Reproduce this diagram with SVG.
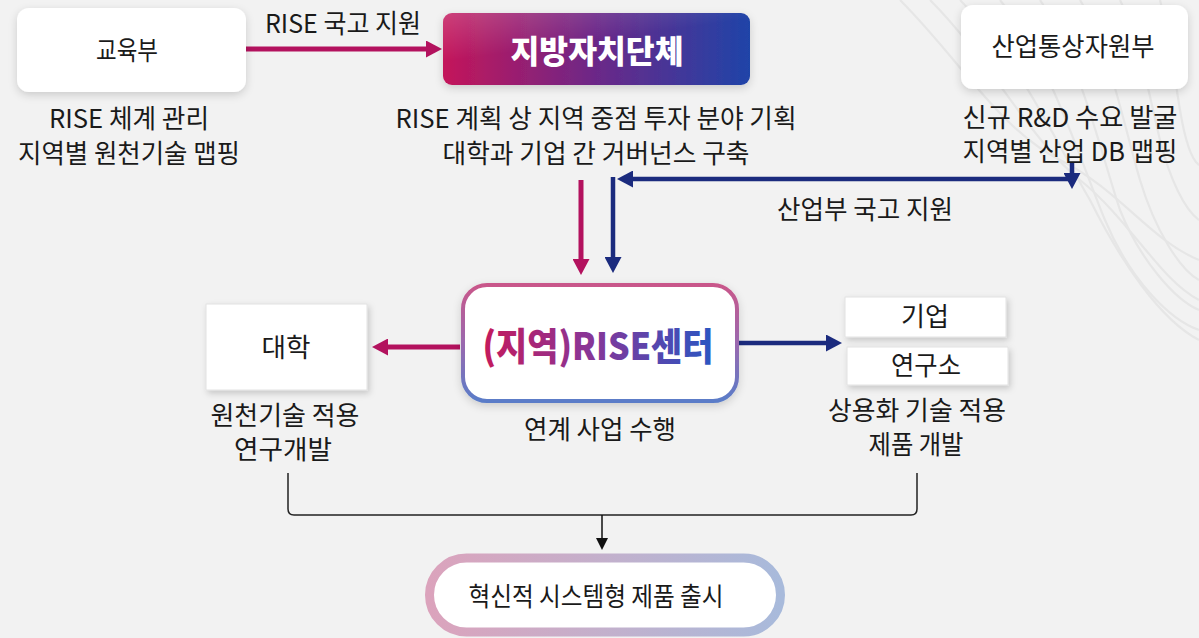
<svg xmlns="http://www.w3.org/2000/svg" width="1199" height="638" viewBox="0 0 1199 638">
<style>
.t{font-family:"Noto Sans CJK KR","Noto Sans",sans-serif;font-size:26px;fill:#1a1a1a;text-anchor:middle}
.box{fill:#ffffff}
.wave{fill:none;stroke:#e6e6e6;stroke-width:2.2}
</style>
<defs>
<filter id="sh" x="-20%" y="-30%" width="140%" height="170%">
<feDropShadow dx="0" dy="3" stdDeviation="4" flood-color="#000" flood-opacity="0.16"/>
</filter>
<filter id="sh2" x="-20%" y="-30%" width="140%" height="170%">
<feDropShadow dx="2" dy="3" stdDeviation="3" flood-color="#000" flood-opacity="0.18"/>
</filter>
<linearGradient id="gLocal" x1="0" y1="0" x2="1" y2="0">
<stop offset="0" stop-color="#c4165a"/>
<stop offset="0.5" stop-color="#6b2888"/>
<stop offset="1" stop-color="#1f44a8"/>
</linearGradient>
<linearGradient id="gHi" x1="0" y1="0" x2="0.6" y2="1">
<stop offset="0" stop-color="#ffffff" stop-opacity="0.18"/>
<stop offset="0.5" stop-color="#ffffff" stop-opacity="0"/>
</linearGradient>
<linearGradient id="gCenter" x1="0" y1="0" x2="0" y2="1">
<stop offset="0" stop-color="#c9578a"/>
<stop offset="0.5" stop-color="#9a68ae"/>
<stop offset="1" stop-color="#5a7cc8"/>
</linearGradient>
<linearGradient id="gCenterText" x1="0" y1="0" x2="1" y2="0">
<stop offset="0" stop-color="#c41a5c"/>
<stop offset="0.45" stop-color="#8a3596"/>
<stop offset="1" stop-color="#2a56c2"/>
</linearGradient>
<linearGradient id="gPill" x1="0" y1="0" x2="1" y2="0">
<stop offset="0" stop-color="#dba3bc"/>
<stop offset="0.5" stop-color="#c3b0cc"/>
<stop offset="1" stop-color="#a8badb"/>
</linearGradient>
<marker id="mMag" markerUnits="userSpaceOnUse" markerWidth="16" markerHeight="17" refX="3" refY="8.5" orient="auto">
<path d="M0,0 L16,8.5 L0,17 z" fill="#b3125e"/>
</marker>
<marker id="mNavy" markerUnits="userSpaceOnUse" markerWidth="16" markerHeight="17" refX="3" refY="8.5" orient="auto">
<path d="M0,0 L16,8.5 L0,17 z" fill="#1b2b7e"/>
</marker>
<marker id="mBlk" markerUnits="userSpaceOnUse" markerWidth="12" markerHeight="12" refX="2" refY="6" orient="auto">
<path d="M0,0 L12,6 L0,12 z" fill="#111"/>
</marker>
</defs>

<rect x="0" y="0" width="1199" height="638" fill="#f2f2f2"/>

<g id="background-waves">
<path class="wave" d="M900,0 C960,60 1000,130 1060,160 C1120,190 1150,240 1199,260"/>
<path class="wave" d="M930,0 C990,60 1030,140 1080,180 C1130,220 1160,280 1199,300"/>
<path class="wave" d="M960,0 C1020,60 1060,150 1090,200 C1120,260 1160,320 1199,340"/>
<path class="wave" d="M1000,0 C1050,60 1080,160 1105,220 C1130,280 1170,320 1199,330"/>
<path class="wave" d="M1040,0 C1080,60 1100,150 1120,210 C1140,260 1175,300 1199,310"/>
<path class="wave" d="M1080,0 C1110,50 1125,130 1140,180 C1155,230 1180,270 1199,280"/>
<path class="wave" d="M1120,0 C1140,40 1150,100 1160,140 C1170,180 1185,210 1199,220"/>
<path class="wave" d="M1160,0 C1170,40 1175,80 1180,110 C1185,140 1192,160 1199,165"/>
</g>

<g id="connectors" fill="none">
<path d="M246,49 H429" stroke="#b3125e" stroke-width="5" marker-end="url(#mMag)"/>
<path d="M581,180 V262" stroke="#b3125e" stroke-width="5" marker-end="url(#mMag)"/>
<path d="M1072,163 V176" stroke="#1b2b7e" stroke-width="4.5" marker-end="url(#mNavy)"/>
<path d="M1072,179 H630" stroke="#1b2b7e" stroke-width="4.5" marker-end="url(#mNavy)"/>
<path d="M613,177 V260" stroke="#1b2b7e" stroke-width="4.5" marker-end="url(#mNavy)"/>
<path d="M460,347 H385" stroke="#b3125e" stroke-width="5" marker-end="url(#mMag)"/>
<path d="M739,343 H829" stroke="#1b2b7e" stroke-width="4.5" marker-end="url(#mNavy)"/>
<path d="M288,473 V509 Q288,515 294,515 H911 Q917,515 917,509 V473" stroke="#222" stroke-width="1.5"/>
<path d="M602,515 V540" stroke="#111" stroke-width="1.5" marker-end="url(#mBlk)"/>
</g>

<g id="label-rise-grant">
<text class="t" x="343" y="33" textLength="156" lengthAdjust="spacingAndGlyphs">RISE 국고 지원</text>
</g>
<g id="label-industry-grant">
<text class="t" x="865" y="219" textLength="176" lengthAdjust="spacingAndGlyphs">산업부 국고 지원</text>
</g>

<g id="node-moe">
<rect class="box" x="17" y="8" width="229" height="84" rx="12" filter="url(#sh)"/>
<text class="t" x="127" y="60" textLength="62" lengthAdjust="spacingAndGlyphs">교육부</text>
<text class="t" x="129" y="128" textLength="160" lengthAdjust="spacingAndGlyphs">RISE 체계 관리</text>
<text class="t" x="129" y="163" textLength="222" lengthAdjust="spacingAndGlyphs">지역별 원천기술 맵핑</text>
</g>

<g id="node-local-gov">
<rect x="443" y="13" width="307" height="72" rx="9" fill="url(#gLocal)" filter="url(#sh)"/>
<rect x="443" y="13" width="307" height="72" rx="9" fill="url(#gHi)"/>
<text x="597" y="63" font-family="'Noto Sans CJK KR',sans-serif" font-size="32" font-weight="900" fill="#ffffff" text-anchor="middle" textLength="173" lengthAdjust="spacingAndGlyphs">지방자치단체</text>
<text class="t" x="596" y="128" textLength="401" lengthAdjust="spacingAndGlyphs">RISE 계획 상 지역 중점 투자 분야 기획</text>
<text class="t" x="596" y="163" textLength="307" lengthAdjust="spacingAndGlyphs">대학과 기업 간 거버넌스 구축</text>
</g>

<g id="node-motie">
<rect class="box" x="961" y="5" width="227" height="84" rx="12" filter="url(#sh)"/>
<text class="t" x="1073" y="56" textLength="163" lengthAdjust="spacingAndGlyphs">산업통상자원부</text>
<text class="t" x="1070" y="127" textLength="215" lengthAdjust="spacingAndGlyphs">신규 R&amp;D 수요 발굴</text>
<text class="t" x="1070" y="161" textLength="215" lengthAdjust="spacingAndGlyphs">지역별 산업 DB 맵핑</text>
</g>

<g id="node-rise-center">
<rect x="463" y="285" width="274" height="116" rx="24" fill="#ffffff" stroke="url(#gCenter)" stroke-width="4" filter="url(#sh)"/>
<text x="598" y="360" font-family="'Noto Sans CJK KR',sans-serif" font-size="38" font-weight="900" fill="url(#gCenterText)" text-anchor="middle" textLength="231" lengthAdjust="spacingAndGlyphs">(지역)RISE센터</text>
<text class="t" x="600" y="439" textLength="152" lengthAdjust="spacingAndGlyphs">연계 사업 수행</text>
</g>

<g id="node-university">
<rect class="box" x="206" y="304" width="161" height="86" stroke="#e2e2e2" stroke-width="1" filter="url(#sh2)"/>
<text class="t" x="286" y="357" textLength="49" lengthAdjust="spacingAndGlyphs">대학</text>
<text class="t" x="285" y="425" textLength="149" lengthAdjust="spacingAndGlyphs">원천기술 적용</text>
<text class="t" x="283" y="459" textLength="98" lengthAdjust="spacingAndGlyphs">연구개발</text>
</g>

<g id="node-company">
<rect class="box" x="845" y="297" width="161" height="40" stroke="#e2e2e2" stroke-width="1" filter="url(#sh2)"/>
<text class="t" x="925" y="326" textLength="48" lengthAdjust="spacingAndGlyphs">기업</text>
</g>

<g id="node-institute">
<rect class="box" x="847" y="347" width="161" height="38" stroke="#e2e2e2" stroke-width="1" filter="url(#sh2)"/>
<text class="t" x="926" y="375" textLength="70" lengthAdjust="spacingAndGlyphs">연구소</text>
<text class="t" x="917" y="420" textLength="178" lengthAdjust="spacingAndGlyphs">상용화 기술 적용</text>
<text class="t" x="916" y="454" textLength="95" lengthAdjust="spacingAndGlyphs">제품 개발</text>
</g>

<g id="node-product">
<rect x="429.5" y="558" width="351" height="74" rx="37" fill="#ffffff" stroke="url(#gPill)" stroke-width="9"/>
<text class="t" x="596" y="606" font-size="28" textLength="255" lengthAdjust="spacingAndGlyphs">혁신적 시스템형 제품 출시</text>
</g>
</svg>
